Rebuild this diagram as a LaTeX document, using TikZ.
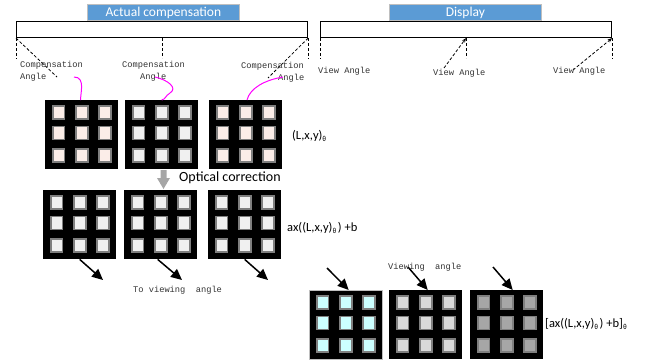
\documentclass[tikz,border=0pt]{standalone}
\usepackage{fontspec}
\setmainfont{Carlito}
\newfontfamily\monof{Liberation Mono}
\newfontfamily\cjkf{Noto Sans CJK SC}
\usetikzlibrary{arrows.meta}
\definecolor{hdrblue}{HTML}{5B9BD5}
\definecolor{hdrborder}{HTML}{BFBFBF}
\definecolor{sqborder}{HTML}{7F7F7F}
\definecolor{pinkfill}{HTML}{FBEDE8}
\definecolor{lgfill}{HTML}{F0F0F0}
\definecolor{cyanfill}{HTML}{CCFFFF}
\definecolor{midgray}{HTML}{D9D9D9}
\definecolor{darkgray}{HTML}{A6A6A6}
\definecolor{arrowgray}{HTML}{A6A6A6}
\definecolor{magentaline}{HTML}{FF00FF}
\newcommand\thsub{{\fontsize{6.5}{7}\selectfont\raisebox{-2pt}{\cjkf θ}}}
\newcommand\fwp{\hspace{1.5pt})\hspace{3pt}}
\newcommand\mypanel[4]{%
  \node[panelbox] (#1) at (#2,#3) {};
  \foreach \i in {13.7,37,60}{
    \foreach \j in {12.5,33,55.5}{
      \node[sqbox, fill=#4] at ({#2+\i},{#3+\j}) {};
    }
  }
}
\begin{document}
\begin{tikzpicture}[x=1pt,y=-1pt,
  hdr/.style={fill=hdrblue, draw=hdrborder, line width=0.8pt, text=white, font=\fontsize{13.5}{14}\selectfont, inner sep=0, minimum height=16pt, minimum width=152pt, anchor=north west},
  barbox/.style={draw=black, line width=1.1pt, fill=white, inner sep=0, minimum height=16pt, minimum width=291pt, anchor=north west},
  dashline/.style={dash pattern=on 3pt off 2pt, line width=0.8pt},
  mono/.style={font=\monof\fontsize{8.7}{10}\selectfont, inner sep=0, anchor=base west, text=black!80},
  sans/.style={font=\fontsize{12.5}{14}\selectfont, inner sep=0, anchor=base west},
  panelbox/.style={fill=black, draw=none, minimum width=73pt, minimum height=69pt, inner sep=0, anchor=north west},
  sqbox/.style={draw=sqborder, line width=1.6pt, minimum width=11.7pt, minimum height=13.3pt, inner sep=0},
  blkarrow/.style={line width=1.5pt, -{Triangle[length=11pt,width=10pt]}},
  dasharrow/.style={dashline, -{Stealth[length=4.5pt,width=3.5pt]}},
  pinkcurve/.style={draw=magentaline, line width=1pt}
]
\useasboundingbox (0,0) rectangle (652,362);

% ---- top left: actual compensation
\node[hdr] (hdrA) at (87,4) {Actual compensation};
\node[barbox] (barA) at (16,21) {};
\draw[dashline] (barA.south west) -- ++(0,21);
\draw[dashline] (barA.south) -- ++(0,20);
\draw[dashline] (barA.south east) -- ++(0,21);
\coordinate (dgA1) at (57,77);
\coordinate (dgA2) at (268,78);
\draw[dashline] (barA.south west) -- (dgA1);
\draw[dashline] (barA.south east) -- (dgA2);
\node[mono] (ca1a) at (20,67) {Compensation};
\node[mono] (ca1b) at (20,79) {Angle};
\node[mono] (ca2a) at (122,67) {Compensation};
\node[mono] (ca2b) at (140,79) {Angle};
\node[mono] (ca3a) at (241,68) {Compensation};
\node[mono] (ca3b) at (278,80) {Angle};

% ---- top right: display
\node[hdr] (hdrD) at (389,4) {Display};
\node[barbox] (barD) at (320,21) {};
\draw[dashline] (barD.south west) -- ++(0,21);
\draw[dashline] (barD.south) -- ++(0,20);
\draw[dashline] (barD.south east) -- ++(0,21);
\coordinate (vaS2) at (444,68);
\coordinate (vaS3) at (573,70);
\draw[dasharrow] (vaS2) -- (barD.south);
\draw[dasharrow] (vaS3) -- (barD.south east);
\node[mono] (va1) at (318,73) {View Angle};
\node[mono] (va2) at (433,75) {View Angle};
\node[mono] (va3) at (553,73) {View Angle};

% ---- row 1 panels
\mypanel{p11}{45}{100}{pinkfill}
\mypanel{p12}{125}{100}{lgfill}
\mypanel{p13}{209}{100}{pinkfill}
\node[sans] (lxy) at (292,139) {(L,x,y)\thsub};

% magenta curves
\draw[pinkcurve] (74,77) .. controls (86,77) and (80,94) .. ([xshift=-1pt]p11.north);
\draw[pinkcurve] (155,77) .. controls (168,80) and (178,88) .. (170,93) .. controls (165,96) and (166,99) .. (p12.north);
\draw[pinkcurve] (283,77) .. controls (265,80) and (250,88) .. (247,100);

% optical correction arrow
\fill[arrowgray] (160.5,170) -- (166.5,170) -- (166.5,178) -- (170,178) -- (163.5,189) -- (157,178) -- (160.5,178) -- cycle;
\node[sans, font=\fontsize{14}{15}\selectfont] (optc) at (179,181) {Optical correction};

% ---- row 2 panels
\mypanel{p21}{43}{190}{lgfill}
\mypanel{p22}{124}{190}{lgfill}
\mypanel{p23}{208}{190}{lgfill}
\node[sans] (axb) at (287,231) {ax((L,x,y)\thsub\fwp+b};
\coordinate (e21) at (103,280);
\coordinate (e22) at (182,280);
\coordinate (e23) at (268,280);
\draw[blkarrow] (p21.south) -- (e21);
\draw[blkarrow] ([xshift=-3pt]p22.south) -- (e22);
\draw[blkarrow] (p23.south) -- (e23);
\node[mono] (tva) at (133,292) {To viewing\ \ angle};

% ---- row 3 panels
\mypanel{p31}{309}{290}{cyanfill}
\draw[hdrborder, line width=0.8pt] (p31.north west) rectangle (p31.south east);
\mypanel{p32}{389}{290}{midgray}
\mypanel{p33}{470}{290}{darkgray}
\coordinate (s31) at (327,268);
\coordinate (s32) at (408,267);
\coordinate (s33) at (493,267);
\draw[blkarrow] (s31) -- ([xshift=3pt]p31.north);
\draw[blkarrow] (s32) -- ([xshift=2pt]p32.north);
\draw[blkarrow] (s33) -- ([xshift=6pt]p33.north);
\node[mono] (vga) at (388,269) {Viewing\ \ angle};
\node[sans] (axbt) at (545,327) {[ax((L,x,y)\thsub\fwp+b]\thsub};
\end{tikzpicture}
\end{document}
